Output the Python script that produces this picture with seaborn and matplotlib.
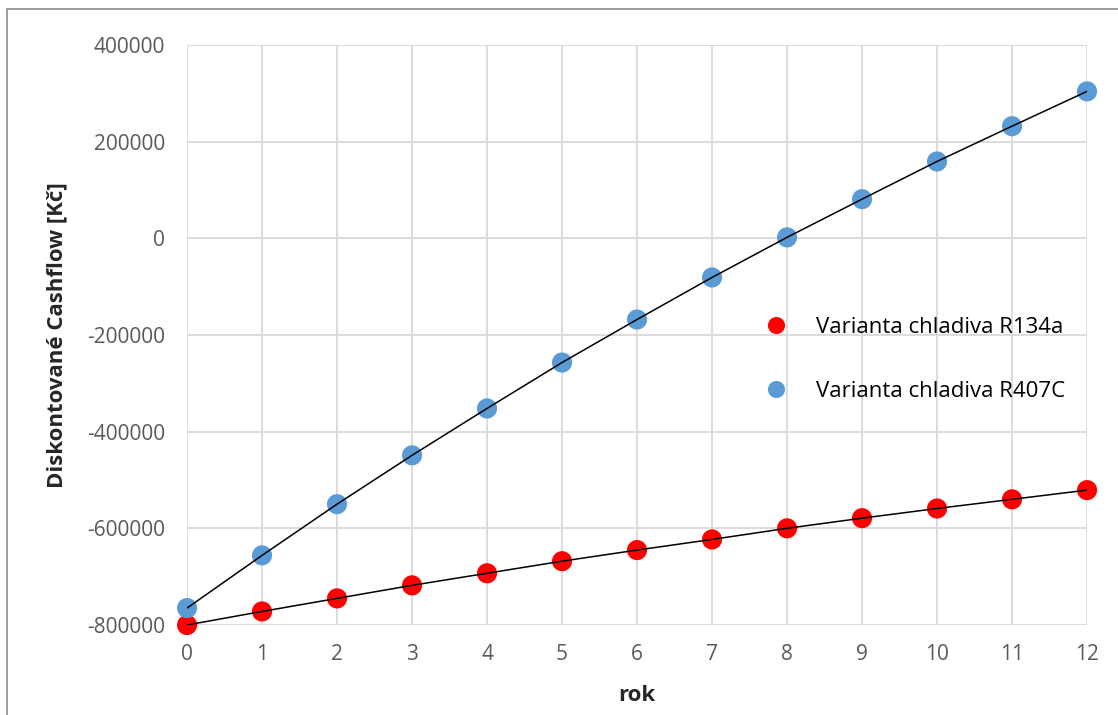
import numpy as np
import pandas as pd
import matplotlib
matplotlib.use("Agg")
import matplotlib.pyplot as plt
import seaborn as sns

# ------------------------------------------------------------------ #
# Data
# ------------------------------------------------------------------ #
years = list(range(13))
r134a = [-800000, -772000, -745000, -718000, -693000, -668000, -645000,
         -623000, -600000, -579000, -559000, -540000, -521000]
r407c = [-765000, -656000, -550000, -449000, -352000, -257000, -168000,
         -81000, 2000, 81000, 159000, 232000, 304000]
labels = ["Varianta chladiva R134a", "Varianta chladiva R407C"]
colors = ["#ff0000", "#5b9bd5"]
y_ticks = [-800000, -600000, -400000, -200000, 0, 200000, 400000]

df = pd.DataFrame({
    "rok": years * 2,
    "cf": r134a + r407c,
    "varianta": [labels[0]] * len(years) + [labels[1]] * len(years),
})

# ------------------------------------------------------------------ #
# Plot
# ------------------------------------------------------------------ #
sns.set_style("white")
plt.rcParams["font.family"] = ["Open Sans", "DejaVu Sans"]
plt.rcParams["axes.unicode_minus"] = False

fig = plt.figure(figsize=(11.18, 7.15), dpi=100)
ax = fig.add_axes([0.1673, 0.1259, 0.805, 0.8112])

# connecting black lines on top of the markers
for lab in labels:
    sub = df[df["varianta"] == lab]
    sns.lineplot(data=sub, x="rok", y="cf", color="black", linewidth=1.1,
                 ax=ax, legend=False, zorder=3)

sns.scatterplot(data=df, x="rok", y="cf", hue="varianta", palette=colors,
                s=210, edgecolor="none", ax=ax, zorder=2)

ax.set_xlim(0, 12)
ax.set_ylim(-800000, 400000)
ax.set_xticks(years)
ax.set_yticks(y_ticks)
ax.grid(True, color="#d9d9d9", linewidth=1.3)
for s in ax.spines.values():
    s.set_visible(False)
ax.tick_params(axis="both", colors="#595959", labelsize=15, length=0)
ax.tick_params(axis="y", pad=16)
ax.tick_params(axis="x", pad=14)
ax.set_xlabel("rok", fontsize=16, fontweight="bold", labelpad=14)
ax.set_ylabel("Diskontované Cashflow [Kč]", fontsize=16, fontweight="bold",
              labelpad=14)
for c in ax.collections:
    c.set_clip_on(False)

leg = ax.legend(loc="upper left", bbox_to_anchor=(0.607, 0.566), frameon=False,
                fontsize=16, labelspacing=1.95, handletextpad=0.8,
                markerscale=0.85, labelcolor="black")

# chart border like the Excel frame
fig.add_artist(plt.Rectangle((7 / 1118, -0.1), 1.2, 1 - 9 / 715 + 0.1,
                             transform=fig.transFigure, fill=False,
                             edgecolor="#8c8c8c", linewidth=1.2))

fig.savefig("out.png", dpi=100)
